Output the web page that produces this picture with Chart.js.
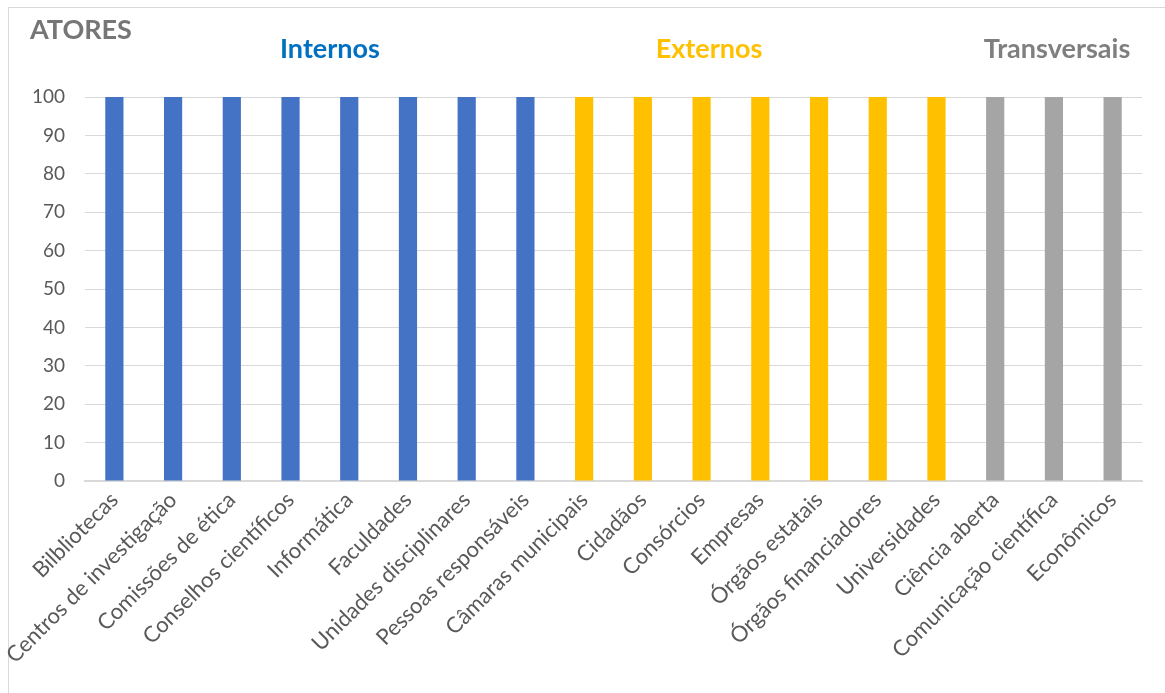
<!DOCTYPE html>
<html>
<head>
<meta charset="utf-8">
<script src="https://cdn.jsdelivr.net/npm/chart.js@4"></script>
<style>
html,body{margin:0;padding:0;background:#fff;}
#wrap{position:relative;width:1165px;height:693px;}
</style>
</head>
<body>
<div id="wrap"><canvas id="c" width="1165" height="693"></canvas></div>
<script>
const categories = ["Bilbliotecas","Centros de investigação","Comissões de ética","Conselhos científicos","Informática","Faculdades","Unidades disciplinares","Pessoas responsáveis","Câmaras municipais","Cidadãos","Consórcios","Empresas","Órgãos estatais","Órgãos financiadores","Universidades","Ciência aberta","Comunicação científica","Econômicos"];
const groups = ["Internos","Internos","Internos","Internos","Internos","Internos","Internos","Internos","Externos","Externos","Externos","Externos","Externos","Externos","Externos","Transversais","Transversais","Transversais"];
const values = [100,100,100,100,100,100,100,100,100,100,100,100,100,100,100,100,100,100];
const yTicks = [0,10,20,30,40,50,60,70,80,90,100];
const groupColors = {Internos:"#4472C4", Externos:"#FFC000", Transversais:"#A5A5A5"};
const headings = [
  {text:"ATORES", x:30, y:30, color:"#767676", align:"left", size:27},
  {text:"Internos", x:330, y:49, color:"#0070C0", align:"center", size:27},
  {text:"Externos", x:709, y:49, color:"#FFC000", align:"center", size:27},
  {text:"Transversais", x:1057, y:49, color:"#7F7F7F", align:"center", size:27}
];
const FONT = "Lato, 'Noto Sans', sans-serif";

const deco = {
  id:'deco',
  beforeDraw(chart){
    const ctx = chart.ctx;
    ctx.save();
    ctx.fillStyle = '#fff';
    ctx.fillRect(0,0,chart.width,chart.height);
    ctx.strokeStyle = '#d9d9d9';
    ctx.lineWidth = 1;
    ctx.strokeRect(8.5,7.5,1165,700);
    ctx.restore();
  },
  afterDraw(chart){
    const ctx = chart.ctx;
    ctx.save();
    ctx.textBaseline = 'middle';
    headings.forEach(h=>{
      ctx.font = "bold " + h.size + "px " + FONT;
      ctx.fillStyle = h.color;
      ctx.textAlign = h.align;
      ctx.fillText(h.text, h.x, h.y);
    });
    ctx.restore();
  }
};

new Chart(document.getElementById('c'), {
  type:'bar',
  data:{
    labels:categories,
    datasets:[{
      data:values,
      backgroundColor:groups.map(g=>groupColors[g]),
      categoryPercentage:1,
      barPercentage:0.31
    }]
  },
  options:{
    responsive:false,
    animation:false,
    layout:{padding:{left:18,right:23,top:97,bottom:0}},
    plugins:{legend:{display:false}, tooltip:{enabled:false}},
    scales:{
      x:{
        grid:{display:false, drawTicks:false},
        border:{color:'#d9d9d9', width:2},
        ticks:{
          color:'#595959',
          font:{family:FONT, size:22},
          minRotation:45, maxRotation:45,
          padding:6,
          autoSkip:false
        },
        afterFit(s){ s.height = 212; }
      },
      y:{
        min:0, max:100,
        afterBuildTicks(s){ s.ticks = yTicks.map(v=>({value:v})); },
        grid:{color:'#d9d9d9', drawTicks:false},
        border:{display:false},
        ticks:{
          color:'#595959',
          font:{family:FONT, size:19},
          padding:20
        },
        afterFit(s){ s.width = 67; }
      }
    }
  },
  plugins:[deco]
});
</script>
</body>
</html>
